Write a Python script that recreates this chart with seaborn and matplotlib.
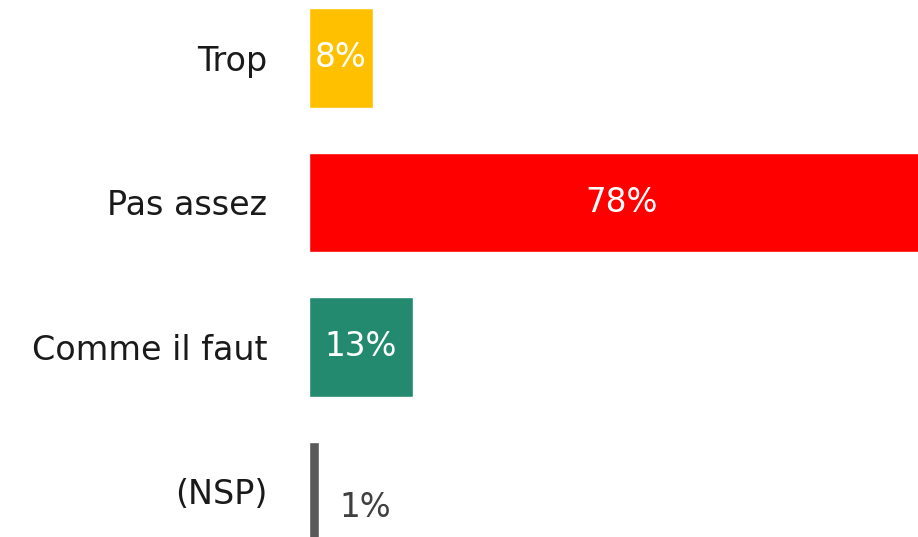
import matplotlib
matplotlib.use('Agg')
import matplotlib.pyplot as plt
import pandas as pd
import seaborn as sns

categories = ['Trop', 'Pas assez', 'Comme il faut', '(NSP)']
values = [8, 78, 13, 1]
colors = ['#FFC000', '#FF0000', '#238A6F', '#595959']
labels = ['8%', '78%', '13%', '1%']

df = pd.DataFrame({'cat': categories, 'val': values})

sns.set_style('white')
plt.rcParams['font.family'] = ['DejaVu Sans']

fig = plt.figure(figsize=(9.18, 5.37), dpi=100)
ax = fig.add_axes([309 / 918, 0, (918 - 309) / 918, 1])

sns.barplot(data=df, x='val', y='cat', hue='cat', palette=colors,
            orient='h', width=0.69, saturation=1, legend=False, ax=ax)

ax.set_xlim(0, 76.1)
ax.set_ylim(3.315, -0.401)
ax.set_xlabel('')
ax.set_ylabel('')
ax.set_xticks([])
sns.despine(ax=ax, left=True, bottom=True)
ax.tick_params(axis='y', length=0, pad=30, labelsize=24, labelcolor='#1a1a1a')

# NSP bar is drawn with a minimum visible width
ax.patches[3].set_width(1.25)

for i, (v, lab) in enumerate(zip(values, labels)):
    if v >= 5:
        ax.text(v / 2, i, lab, ha='center', va='center', color='white', fontsize=23.5)
    else:
        ax.text(v + 6.0, i + 0.11, lab, ha='center', va='center', color='#404040', fontsize=23.5)

fig.savefig('out.png', dpi=100)
